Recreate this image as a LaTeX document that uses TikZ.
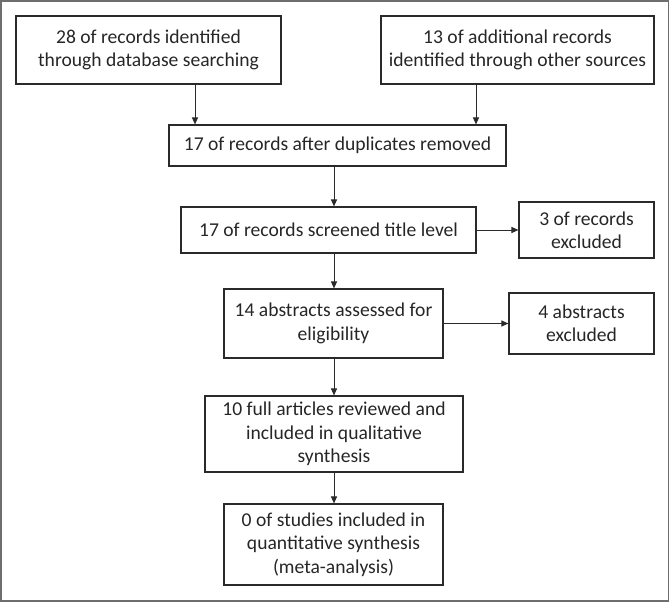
\documentclass[tikz,border=0pt]{standalone}
\usepackage{fontspec}
\setmainfont{Carlito}
\usetikzlibrary{arrows.meta}
\definecolor{linec}{HTML}{2A2A2A}
\definecolor{textc}{HTML}{262626}
\definecolor{framec}{HTML}{6E6E6E}
\begin{document}
\begin{tikzpicture}[x=1pt,y=1pt,
  box/.style={draw=linec, line width=1.1pt, inner sep=0pt, align=center,
    text=textc, font=\fontsize{19.6}{23.3}\selectfont},
  arr/.style={draw=linec, line width=1pt, -{Triangle[length=7pt,width=6pt]}}]
\useasboundingbox (0,0) rectangle (670,-602);
\draw[framec, line width=1.3pt] (1,-1) rectangle (668.5,-601);
% boxes: centre = ((l+r)/2, -(t+b)/2), size = (r-l) x (b-t)
\node[box, minimum width=265pt, minimum height=68pt] (b1) at (148.5,-50) {28 of records identified\\through database searching};
\node[box, minimum width=273pt, minimum height=68pt] (b2) at (517.5,-50) {13 of additional records\\identified through other sources};
\node[box, minimum width=337pt, minimum height=41pt] (b3) at (337.5,-145.5) {17 of records after duplicates removed};
\node[box, minimum width=295pt, minimum height=46pt] (b4) at (328.5,-230) {17 of records screened title level};
\node[box, minimum width=135pt, minimum height=56pt] (e1) at (586.5,-230) {3 of records\\excluded};
\node[box, minimum width=219pt, minimum height=69pt] (b5) at (333.5,-323.5) {14 abstracts assessed for\\eligibility};
\node[box, minimum width=145pt, minimum height=61pt] (e2) at (581.5,-323.5) {4 abstracts\\excluded};
\node[box, minimum width=258pt, minimum height=76pt] (b6) at (334,-434) {10 full articles reviewed and\\included in qualitative\\synthesis};
\node[box, minimum width=219pt, minimum height=81pt] (b7) at (333.5,-544.5) {0 of studies included in\\quantitative synthesis\\(meta-analysis)};
% connectors
\draw[arr] (b1.south -| 195,0) -- (b3.north -| 195,0);
\draw[arr] (b2.south -| 476,0) -- (b3.north -| 476,0);
\draw[arr] (b3.south -| 334,0) -- (b4.north -| 334,0);
\draw[arr] (b4.east) -- (e1.west);
\draw[arr] (b4.south -| 334,0) -- (b5.north -| 334,0);
\draw[arr] (b5.east) -- (e2.west);
\draw[arr] (b5.south -| 334,0) -- (b6.north -| 334,0);
\draw[arr] (b6.south -| 334,0) -- (b7.north -| 334,0);
\end{tikzpicture}
\end{document}
